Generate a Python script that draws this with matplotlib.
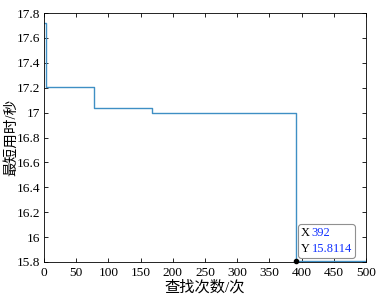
import numpy as np
import matplotlib.pyplot as plt
from matplotlib.offsetbox import TextArea, HPacker, VPacker, AnnotationBbox

plt.rcParams['font.family'] = ['Liberation Serif', 'Noto Sans CJK SC']

# 每次查找后的最短用时（阶梯状）
iters = [0, 3, 77, 168, 392, 500]
best_time = [17.72, 17.205, 17.035, 17.0, 15.8114, 15.8114]
tip_x, tip_y = 392, 15.8114

fig = plt.figure(figsize=(3.78, 2.98), dpi=100)
ax = fig.add_axes([44/378, 36/298, 322/378, 249/298])
ax.step(iters, best_time, where='post', color='#3f8fc4', lw=1.0)
ax.set_xlim(0, 500)
ax.set_ylim(15.8, 17.8)
ax.set_xticks(np.arange(0, 501, 50))
ax.set_yticks(np.arange(15.8, 17.81, 0.2))
ax.set_yticklabels(['15.8', '16', '16.2', '16.4', '16.6', '16.8', '17', '17.2', '17.4', '17.6', '17.8'])
ax.tick_params(direction='in', top=True, right=True, labelsize=9.6, length=3, width=0.6)
ax.tick_params(axis='y', pad=2.5)
for s in ax.spines.values():
    s.set_linewidth(0.6)
ax.set_xlabel('查找次数/次', fontsize=11, labelpad=1)
ax.set_ylabel('最短用时/秒', fontsize=10.5)
ax.yaxis.set_label_coords(-0.082, 0.5)

# 数据提示框
ax.plot([tip_x], [tip_y], 'o', color='black', ms=3, clip_on=False, zorder=6)
blue = '#1030ff'
fs = 9
row1 = HPacker(children=[TextArea('X', textprops=dict(fontsize=fs, color='black')),
                         TextArea(str(tip_x), textprops=dict(fontsize=fs, color=blue))],
               pad=0, sep=1.5)
row2 = HPacker(children=[TextArea('Y', textprops=dict(fontsize=fs, color='black')),
                         TextArea('%.4f' % tip_y, textprops=dict(fontsize=fs, color=blue))],
               pad=0, sep=1.5)
tip = VPacker(children=[row1, row2], pad=0, sep=2.5, align='left')
ab = AnnotationBbox(tip, (tip_x, tip_y), xybox=(3.0, 4.2), xycoords='data',
                    boxcoords='offset points', box_alignment=(0, 0),
                    frameon=True,
                    bboxprops=dict(boxstyle='round,pad=0.2,rounding_size=0.2',
                                   fc='white', ec='#909090', lw=0.8))
ab.set_zorder(5)
ab.set_clip_on(False)
ax.add_artist(ab)

fig.savefig('out.png', dpi=100, facecolor='white')
